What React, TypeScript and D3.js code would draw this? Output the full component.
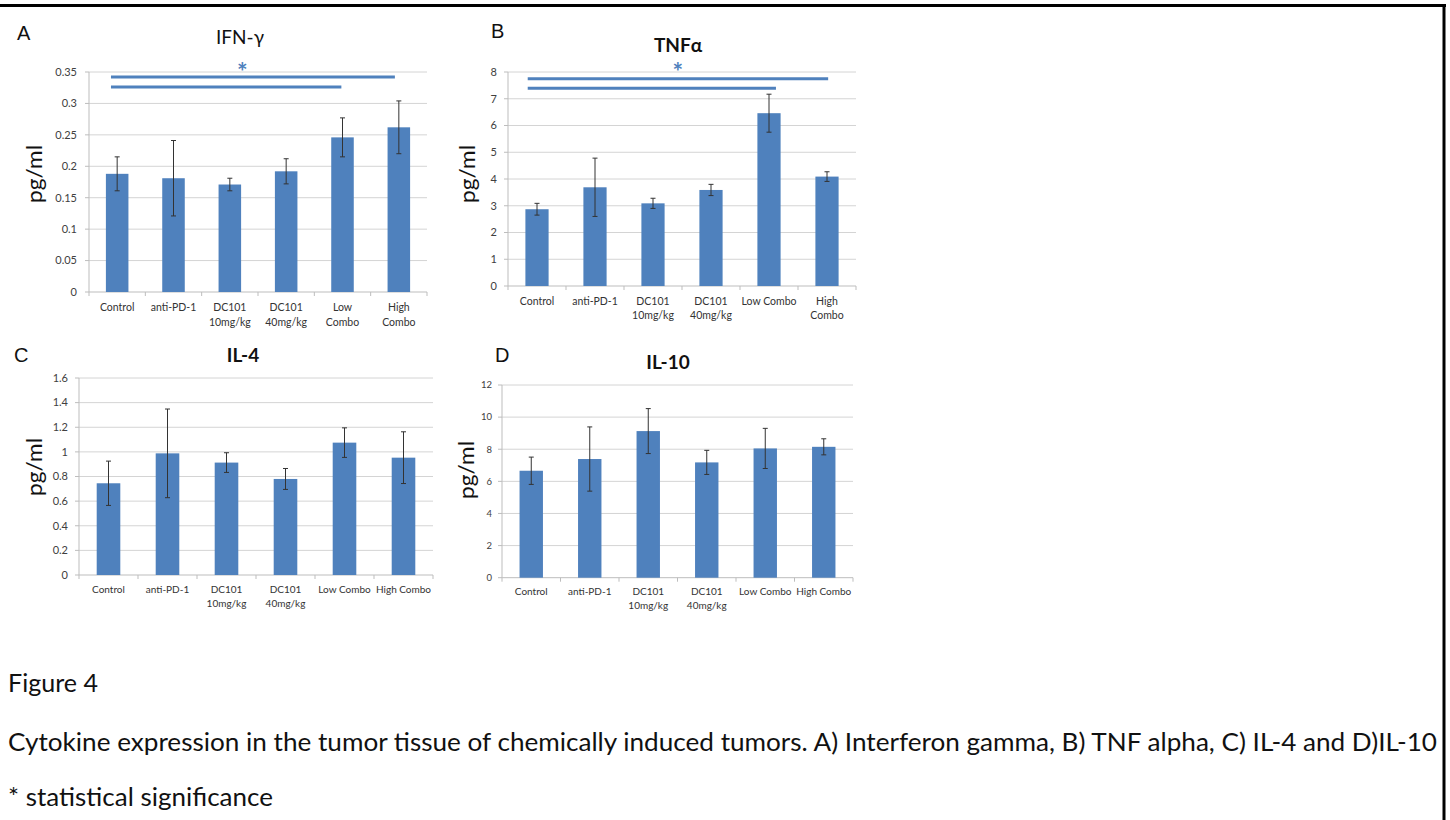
import React from "react";
import * as d3 from "d3";

// category labels, split into the lines they are drawn on
const labelsA = [["Control"], ["anti-PD-1"], ["DC101", "10mg/kg"], ["DC101", "40mg/kg"], ["Low", "Combo"], ["High", "Combo"]];
const labelsB = [["Control"], ["anti-PD-1"], ["DC101", "10mg/kg"], ["DC101", "40mg/kg"], ["Low Combo"], ["High", "Combo"]];
const labelsCD = [["Control"], ["anti-PD-1"], ["DC101", "10mg/kg"], ["DC101", "40mg/kg"], ["Low Combo"], ["High Combo"]];

// IFN-gamma
const ifnMeans = [0.188, 0.181, 0.171, 0.192, 0.246, 0.262];
const ifnErr = [0.027, 0.06, 0.01, 0.02, 0.031, 0.042];
const ifnTicks = [0, 0.05, 0.1, 0.15, 0.2, 0.25, 0.3, 0.35];

// TNF alpha
const tnfMeans = [2.87, 3.69, 3.09, 3.59, 6.46, 4.09];
const tnfErr = [0.22, 1.09, 0.19, 0.21, 0.71, 0.18];
const tnfTicks = [0, 1, 2, 3, 4, 5, 6, 7, 8];

// IL-4
const il4Means = [0.745, 0.988, 0.913, 0.78, 1.075, 0.953];
const il4Err = [0.18, 0.36, 0.08, 0.085, 0.12, 0.21];
const il4Ticks = [0, 0.2, 0.4, 0.6, 0.8, 1, 1.2, 1.4, 1.6];

// IL-10
const il10Means = [6.66, 7.39, 9.13, 7.18, 8.05, 8.15];
const il10Err = [0.85, 2.0, 1.4, 0.75, 1.25, 0.5];
const il10Ticks = [0, 2, 4, 6, 8, 10, 12];

// significance brackets: from / to in category index, y in data units
const ifnSig = [{ from: -0.11, to: 4.93, y: 0.342 }, { from: -0.11, to: 3.98, y: 0.326 }];
const ifnStar = { at: 2.22, y: 0.358 };
const tnfSig = [{ from: -0.16, to: 5.02, y: 7.75 }, { from: -0.16, to: 4.12, y: 7.39 }];
const tnfStar = { at: 2.43, y: 8.19 };

const BLUE = "#4f81bd";
const FONT = "Lato, 'Open Sans', sans-serif";

function Panel(p: any) {
  const x = d3.scaleBand<number>().domain(d3.range(p.means.length))
    .range([p.left, p.right]).paddingInner(0.6).paddingOuter(0.3);
  const y = d3.scaleLinear().domain([0, d3.max(p.ticks) as number]).range([p.bottom, p.top]);
  const cx = (i: number) => (x(i) as number) + x.bandwidth() / 2;
  const xi = d3.scaleLinear().domain([0, p.means.length - 1]).range([cx(0), cx(p.means.length - 1)]);
  const step = x.step();
  const fmt = (d: number) => String(+d.toFixed(2));

  return (
    <g>
      <text x={p.letterX} y={p.letterY} fontFamily="'Liberation Sans', Arial, sans-serif" fontSize={20} fill="#111">{p.letter}</text>
      <text x={p.titleX} y={p.titleY} textAnchor="middle" fontFamily={FONT} fontSize={19}
        fontWeight={p.bold ? 700 : 400} fill="#111">{p.title}</text>

      {/* grid */}
      {p.ticks.map((t: number) => (
        <g key={t}>
          {t > 0 && <line x1={p.left} x2={p.right} y1={y(t)} y2={y(t)} stroke="#d4d4d4" strokeWidth={1} />}
          <line x1={p.left - 4} x2={p.left} y1={y(t)} y2={y(t)} stroke="#bdbdbd" />
          <text x={p.left - p.tickGap} y={y(t)} dy="0.35em" textAnchor="end" fontFamily={FONT}
            fontSize={p.tickSize} fill="#404040">{fmt(t)}</text>
        </g>
      ))}
      <line x1={p.left} x2={p.left} y1={p.top} y2={p.bottom} stroke="#bdbdbd" />
      <line x1={p.left} x2={p.right} y1={p.bottom} y2={p.bottom} stroke="#bdbdbd" />
      {d3.range(p.means.length + 1).map((i) => (
        <line key={i} x1={p.left + i * step} x2={p.left + i * step} y1={p.bottom} y2={p.bottom + 4} stroke="#bdbdbd" />
      ))}

      {/* bars */}
      {p.means.map((m: number, i: number) => (
        <rect key={i} x={x(i)} y={y(m)} width={x.bandwidth()} height={p.bottom - y(m)} fill={BLUE} />
      ))}
      {p.means.map((m: number, i: number) => {
        const hi = y(m + p.errs[i]);
        const lo = y(m - p.errs[i]);
        return (
          <g key={i} stroke="#333" strokeWidth={1}>
            <line x1={cx(i)} x2={cx(i)} y1={hi} y2={lo} />
            <line x1={cx(i) - 2.5} x2={cx(i) + 2.5} y1={hi} y2={hi} />
            <line x1={cx(i) - 2.5} x2={cx(i) + 2.5} y1={lo} y2={lo} />
          </g>
        );
      })}

      {/* category labels */}
      {p.labels.map((lines: string[], i: number) => (
        <text key={i} textAnchor="middle" fontFamily={FONT} fontSize={p.labelSize} fill="#333">
          {lines.map((s, k) => (
            <tspan key={k} x={cx(i)} y={p.bottom + p.labelOff + k * p.labelGap}>{s}</tspan>
          ))}
        </text>
      ))}

      {/* y label */}
      <text transform={`translate(${p.ylabX},${p.ylabY}) rotate(-90)`} textAnchor="middle"
        fontFamily={FONT} fontSize={21} textLength={58} lengthAdjust="spacingAndGlyphs" fill="#111">pg/ml</text>

      {/* significance */}
      {(p.sig || []).map((s: any, k: number) => (
        <line key={k} x1={xi(s.from)} x2={xi(s.to)} y1={y(s.y)} y2={y(s.y)} stroke={BLUE} strokeWidth={3} />
      ))}
      {p.star && (
        <text x={xi(p.star.at)} y={y(p.star.y)} dy="0.57em" textAnchor="middle" fontFamily={FONT}
          fontSize={25} fontWeight={700} fill={BLUE}>*</text>
      )}
    </g>
  );
}

export default function App() {
  return (
    <svg width={1450} height={820} style={{ position: "absolute", left: 0, top: 0, background: "#fff" }}>
      <rect width={1450} height={820} fill="#fff" />
      <line x1={0} x2={1446} y1={5.5} y2={5.5} stroke="#000" strokeWidth={3} />
      <line x1={1444} x2={1444} y1={4} y2={820} stroke="#000" strokeWidth={3} />

      <Panel letter="A" letterX={17} letterY={40} title="IFN-γ" titleX={240} titleY={44}
        means={ifnMeans} errs={ifnErr} ticks={ifnTicks} labels={labelsA}
        left={89} right={427} top={72} bottom={292} tickGap={12} tickSize={11}
        labelOff={19} labelGap={15} labelSize={10.5} ylabX={42} ylabY={174}
        sig={ifnSig} star={ifnStar} />
      <Panel letter="B" letterX={491} letterY={38} title="TNFα" titleX={678} titleY={52} bold
        means={tnfMeans} errs={tnfErr} ticks={tnfTicks} labels={labelsB}
        left={508} right={856} top={72} bottom={286} tickGap={11} tickSize={11}
        labelOff={19} labelGap={13.5} labelSize={10.5} ylabX={475} ylabY={174}
        sig={tnfSig} star={tnfStar} />
      <Panel letter="C" letterX={14} letterY={362} title="IL-4" titleX={243} titleY={362} bold
        means={il4Means} errs={il4Err} ticks={il4Ticks} labels={labelsCD}
        left={79} right={433} top={378} bottom={575} tickGap={11} tickSize={11}
        labelOff={18} labelGap={13.5} labelSize={10} ylabX={42} ylabY={467} />
      <Panel letter="D" letterX={495} letterY={362} title="IL-10" titleX={668} titleY={369} bold
        means={il10Means} errs={il10Err} ticks={il10Ticks} labels={labelsCD}
        left={502} right={853} top={385} bottom={577.7} tickGap={10} tickSize={9.5}
        labelOff={17} labelGap={14} labelSize={10} ylabX={474} ylabY={470} />

      <g fontFamily={FONT} fill="#111">
        <text x={8} y={692} fontSize={25} textLength={90} lengthAdjust="spacingAndGlyphs">Figure 4</text>
        <text x={8} y={751} fontSize={25} textLength={1429} lengthAdjust="spacingAndGlyphs">
          Cytokine expression in the tumor tissue of chemically induced tumors. A) Interferon gamma, B) TNF alpha, C) IL-4 and D)IL-10
        </text>
        <text x={8} y={806} fontSize={25} textLength={265} lengthAdjust="spacingAndGlyphs">* statistical significance</text>
      </g>
    </svg>
  );
}
